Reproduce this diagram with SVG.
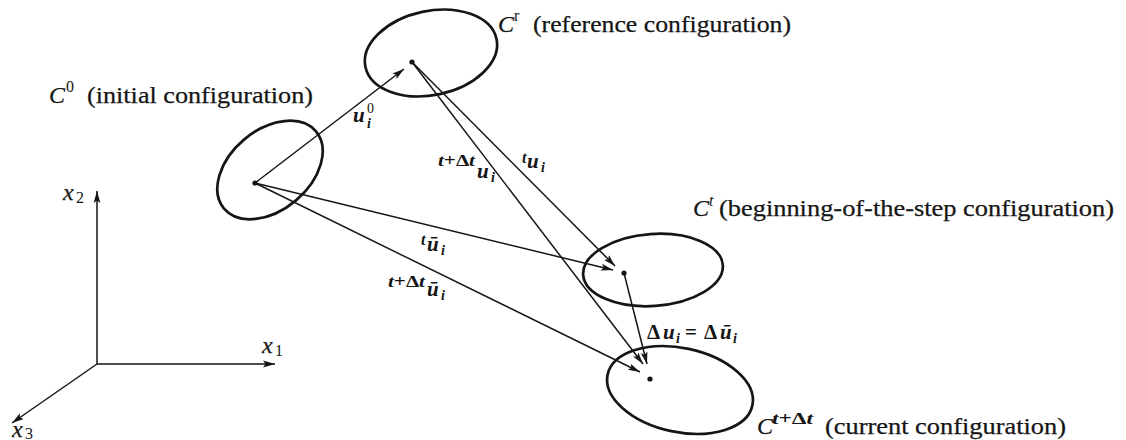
<svg xmlns="http://www.w3.org/2000/svg" width="1126" height="440" viewBox="0 0 1126 440">
<defs>
<style>
text{font-family:"Liberation Serif","Times New Roman",serif;fill:#151515}
.big{font-size:24px;stroke:#151515;stroke-width:0.25}
.it{font-style:italic}
.bi{font-style:italic;font-weight:bold}
.b{font-weight:bold}
.ml{font-size:21px}
.sm{font-size:14px}
.sp{font-size:16px}
.cfg{fill:none;stroke:#151515;stroke-width:2.7}
.ln{stroke:#151515;stroke-width:1.5;fill:none}
.dot{fill:#151515}
</style>
<marker id="ah" viewBox="0 0 12 8" refX="12" refY="4" markerWidth="12" markerHeight="8" markerUnits="userSpaceOnUse" orient="auto">
<path d="M0,0.6 L12,4 L0,7.4 L2.5,4 z" fill="#151515"/>
</marker>
</defs>
<rect width="1126" height="440" fill="#fff"/>

<g id="axes">
<line class="ln" x1="97" y1="364" x2="97" y2="191" marker-end="url(#ah)"/>
<line class="ln" x1="97" y1="364" x2="275" y2="364" marker-end="url(#ah)"/>
<line class="ln" x1="97" y1="364" x2="12" y2="423" marker-end="url(#ah)"/>
<text class="big it" x="63" y="200">x</text><text class="sp" x="76" y="203">2</text>
<text class="big it" x="262" y="353">x</text><text class="sp" x="275" y="356">1</text>
<text class="big it" x="12" y="437">x</text><text class="sp" x="25" y="439">3</text>
</g>

<g id="C0">
<ellipse class="cfg" cx="270" cy="170" rx="60" ry="40" transform="rotate(-40 270 170)"/>
<circle class="dot" cx="255" cy="183" r="2.6"/>
<text class="big it" x="49" y="103">C</text><text class="sp" x="66" y="92">0</text>
<text class="big" x="87" y="103" textLength="226" lengthAdjust="spacingAndGlyphs">(initial configuration)</text>
</g>

<g id="Cr">
<ellipse class="cfg" cx="431" cy="53" rx="67" ry="42" transform="rotate(-12 431 53)"/>
<circle class="dot" cx="412" cy="62" r="2.6"/>
<text class="big it" x="498" y="32">C</text><text class="sp" x="514" y="21">r</text>
<text class="big" x="533" y="32" textLength="258" lengthAdjust="spacingAndGlyphs">(reference configuration)</text>
</g>

<g id="Ct">
<ellipse class="cfg" cx="653" cy="270" rx="70" ry="36" transform="rotate(-4 653 270)"/>
<circle class="dot" cx="624" cy="273" r="2.6"/>
<text class="big it" x="693" y="216">C</text><text class="sp it" x="709" y="206">t</text>
<text class="big" x="719" y="216" textLength="395" lengthAdjust="spacingAndGlyphs">(beginning-of-the-step configuration)</text>
</g>

<g id="Ctdt">
<ellipse class="cfg" cx="680" cy="390" rx="74" ry="42" transform="rotate(12 680 390)"/>
<circle class="dot" cx="650" cy="379" r="2.6"/>
<text class="big it" x="757" y="434">C</text>
<text class="sp b" x="772" y="424" textLength="41" lengthAdjust="spacingAndGlyphs"><tspan class="bi">t</tspan>+Δ<tspan class="bi">t</tspan></text>
<text class="big" x="825" y="434" textLength="241" lengthAdjust="spacingAndGlyphs">(current configuration)</text>
</g>

<g id="connectors">
<line class="ln" x1="255" y1="183" x2="404" y2="69" marker-end="url(#ah)"/>
<line class="ln" x1="412" y1="62" x2="615" y2="266" marker-end="url(#ah)"/>
<line class="ln" x1="255" y1="183" x2="613" y2="270" marker-end="url(#ah)"/>
<line class="ln" x1="412" y1="62" x2="643" y2="364" marker-end="url(#ah)"/>
<line class="ln" x1="255" y1="183" x2="640" y2="372" marker-end="url(#ah)"/>
<line class="ln" x1="624" y1="273" x2="647" y2="364" marker-end="url(#ah)"/>

<text class="ml bi" x="353" y="122">u</text><text class="sm" x="367" y="113">0</text><text class="sm bi" x="367" y="128">i</text>

<text class="sp b" x="438" y="166" textLength="37" lengthAdjust="spacingAndGlyphs"><tspan class="bi">t</tspan>+Δ<tspan class="bi">t</tspan></text>
<text class="ml bi" x="477" y="178">u</text><text class="sm bi" x="491" y="182">i</text>

<text class="sp bi" x="522" y="163">t</text><text class="ml bi" x="527" y="168">u</text><text class="sm bi" x="541" y="172">i</text>

<text class="sp bi" x="421" y="245">t</text><text class="ml bi" x="427" y="251">ū</text><text class="sm bi" x="441" y="255">i</text>

<text class="sp b" x="388" y="287" textLength="37" lengthAdjust="spacingAndGlyphs"><tspan class="bi">t</tspan>+Δ<tspan class="bi">t</tspan></text>
<text class="ml bi" x="427" y="296">ū</text><text class="sm bi" x="441" y="300">i</text>

<text class="ml b" x="647" y="339">Δ</text><text class="ml bi" x="663" y="339">u</text><text class="sm bi" x="676" y="343">i</text>
<text class="ml b" x="685" y="339">=</text>
<text class="ml b" x="704" y="339">Δ</text><text class="ml bi" x="720" y="339">ū</text><text class="sm bi" x="733" y="343">i</text>
</g>
</svg>
